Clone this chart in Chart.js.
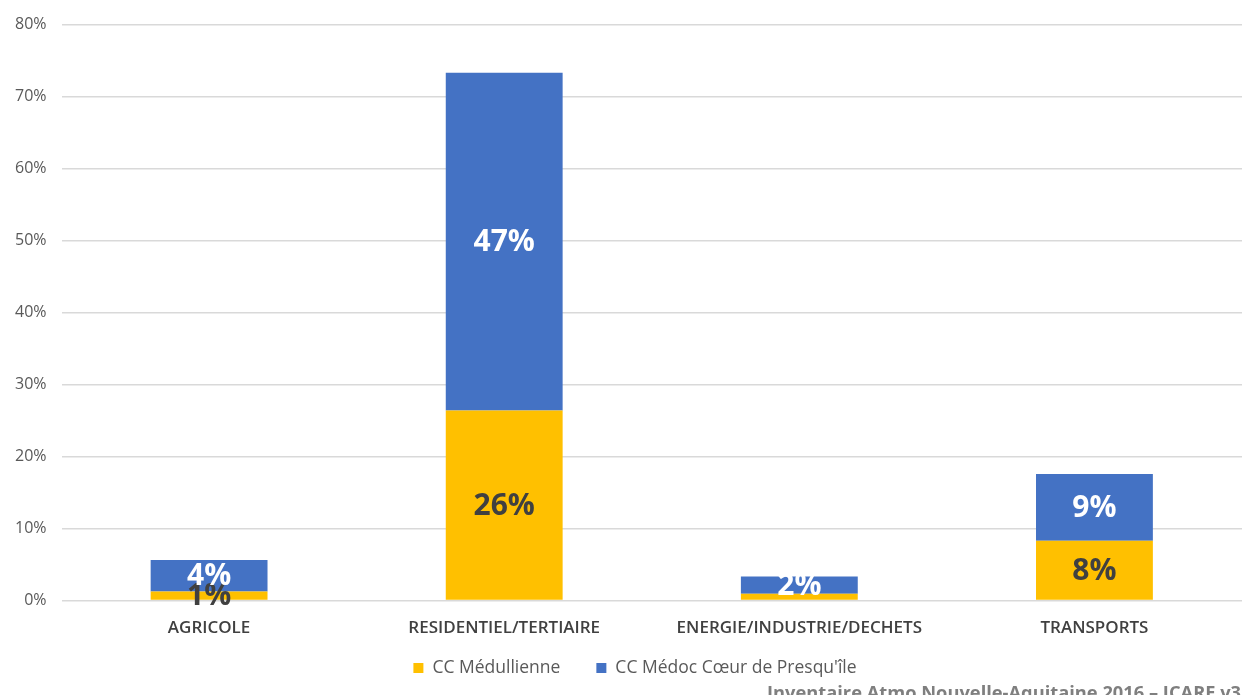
<!DOCTYPE html>
<html>
<head>
<meta charset="utf-8">
<script src="https://cdn.jsdelivr.net/npm/chart.js@4"></script>
<style>
  html, body { margin: 0; padding: 0; background: #fff; }
  #wrap { width: 1242px; height: 695px; position: relative; }
</style>
</head>
<body>
<div id="wrap"><canvas id="chart"></canvas></div>
<script>
// Emissions share by sector, in percent
const categories = ['AGRICOLE', 'RESIDENTIEL/TERTIAIRE', 'ENERGIE/INDUSTRIE/DECHETS', 'TRANSPORTS'];
const medullienne = [1.25, 26.4, 0.95, 8.3];
const medocCoeur = [4.4, 46.9, 2.4, 9.3];
const yTicks = [0, 10, 20, 30, 40, 50, 60, 70, 80];
const sourceText = 'Inventaire Atmo Nouvelle-Aquitaine 2016 \u2013 ICARE v3.';

const FONT = "'Open Sans', 'Noto Sans', sans-serif";

// Value labels centred inside each stacked segment (segments under 1% stay unlabelled)
const segmentLabels = {
    id: 'segmentLabels',
    afterDatasetsDraw(chart) {
        const ctx = chart.ctx;
        ctx.save();
        ctx.font = 'bold 30px ' + FONT;
        ctx.textAlign = 'center';
        ctx.textBaseline = 'middle';
        chart.data.datasets.forEach((ds, i) => {
            const meta = chart.getDatasetMeta(i);
            meta.data.forEach((bar, j) => {
                if (ds.data[j] < 1) return;
                const p = bar.getProps(['x', 'y', 'base'], true);
                ctx.fillStyle = ds.labelColor;
                ctx.fillText(Math.round(ds.data[j]) + '%', p.x, (p.y + p.base) / 2 + 1);
            });
        });
        ctx.restore();
    }
};

// Legend row and source note under the axis
const footer = {
    id: 'footer',
    afterDraw(chart) {
        const ctx = chart.ctx;
        ctx.save();
        ctx.font = '17.5px ' + FONT;
        ctx.textBaseline = 'middle';
        const items = chart.data.datasets.map(ds => ({
            text: ds.label,
            color: ds.backgroundColor,
            w: ctx.measureText(ds.label).width
        }));
        const box = 10, gap = 9, spacing = 36;
        const total = items.reduce((s, it) => s + box + gap + it.w, 0) + spacing * (items.length - 1);
        let x = 635 - total / 2;
        const y = 668;
        items.forEach(it => {
            ctx.fillStyle = it.color;
            ctx.fillRect(x, y - box / 2, box, box);
            x += box + gap;
            ctx.fillStyle = '#595959';
            ctx.fillText(it.text, x, y);
            x += it.w + spacing;
        });

        ctx.font = 'bold 18.3px ' + FONT;
        ctx.fillStyle = '#7f7f7f';
        ctx.textBaseline = 'alphabetic';
        ctx.fillText(sourceText, 767, 699);
        ctx.restore();
    }
};

new Chart(document.getElementById('chart'), {
    type: 'bar',
    data: {
        labels: categories,
        datasets: [
            {
                label: 'CC Médullienne',
                data: medullienne,
                backgroundColor: '#FFC000',
                labelColor: '#404040'
            },
            {
                label: "CC Médoc Cœur de Presqu'île",
                data: medocCoeur,
                backgroundColor: '#4472C4',
                labelColor: '#ffffff'
            }
        ]
    },
    options: {
        responsive: true,
        maintainAspectRatio: false,
        animation: false,
        categoryPercentage: 1,
        barPercentage: 0.396,
        layout: { padding: { top: 9, right: 0, left: 0, bottom: 48 } },
        scales: {
            x: {
                stacked: true,
                grid: { display: false },
                border: { display: false },
                ticks: {
                    color: '#404040',
                    font: { family: FONT, size: 17, weight: '600' },
                    padding: 9,
                    maxRotation: 0
                }
            },
            y: {
                stacked: true,
                min: 0,
                max: 80,
                afterBuildTicks(axis) {
                    axis.ticks = yTicks.map(v => ({ value: v }));
                },
                grid: { color: '#d9d9d9', lineWidth: 1.5, drawTicks: false },
                border: { display: false },
                ticks: {
                    color: '#595959',
                    font: { family: FONT, size: 16 },
                    padding: 15,
                    callback: v => v + '%'
                }
            }
        },
        plugins: {
            legend: { display: false },
            tooltip: { enabled: false }
        }
    },
    plugins: [segmentLabels, footer]
});
</script>
</body>
</html>
